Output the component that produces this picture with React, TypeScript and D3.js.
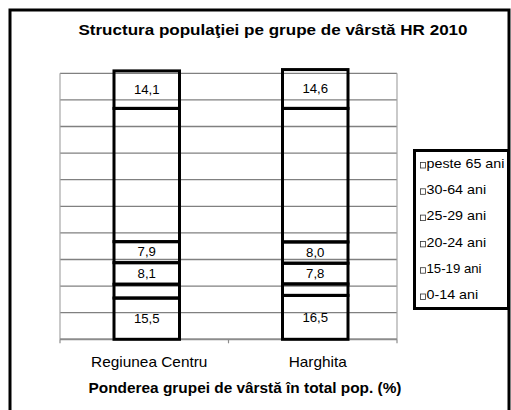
import React from 'react';
import * as d3 from 'd3';

const categories = ['Regiunea Centru', 'Harghita'];
const ageGroups = ['0-14 ani', '15-19 ani', '20-24 ani', '25-29 ani', '30-64 ani', 'peste 65 ani'];
const centruValues = [15.5, 5.2, 8.1, 7.9, 50.1, 14.1];
const harghitaValues = [16.5, 4.3, 7.8, 8.0, 50.2, 14.6];
// these groups carry no visible label in the original
const hiddenLabels = ['15-19 ani', '30-64 ani'];

const W = 511;
const H = 410;
const FONT = '"Liberation Sans", Arial, sans-serif';
const SX = 1.1; // the source picture is slightly stretched sideways

const ro = d3.formatLocale({ decimal: ',', thousands: '.', grouping: [3], currency: ['', ' lei'] });
const fmt = ro.format('.1f');

export default function App() {
  const rows = categories.map((c, i) => {
    const r: any = { cat: c };
    const vals = i === 0 ? centruValues : harghitaValues;
    ageGroups.forEach((g, j) => (r[g] = vals[j]));
    return r;
  });
  const series = d3.stack().keys(ageGroups)(rows);

  const x = d3.scaleBand().domain(categories).range([60, 397]);
  const y = d3.scaleLinear().domain([0, 100]).range([339.3, 73.3]);
  const barW = 65.5;
  const barX = (c: string) => (x(c) as number) + x.bandwidth() / 2 - barW / 2 + 2.5;

  const legendTop = 163;
  const legendStep = 26.3;

  return (
    <svg
      width={W}
      height={H}
      style={{ position: 'absolute', left: 0, top: 0, background: '#fff' }}
      fontFamily={FONT}
    >
      <rect x={0} y={0} width={W} height={H} fill="#fff" />
      {/* outer frame */}
      <rect x={10} y={10} width={499} height={406} fill="none" stroke="#000" strokeWidth={3} />

      <text
        transform={`translate(273,34.5) scale(${SX},1)`}
        textAnchor="middle"
        fontSize={15.5}
        fontWeight="bold"
      >
        Structura populaţiei pe grupe de vârstă HR 2010
      </text>

      {/* gridlines */}
      {y.ticks(10).filter(t => t > 0).map(t => (
        <line key={t} x1={60} x2={397} y1={y(t)} y2={y(t)} stroke="#808080" strokeWidth={1.3} />
      ))}
      <line x1={60} x2={60} y1={y(100)} y2={y(0)} stroke="#a6a6a6" strokeWidth={1.2} />
      <line x1={397} x2={397} y1={y(100)} y2={y(0)} stroke="#a6a6a6" strokeWidth={1.2} />
      <line x1={60} x2={397} y1={y(0)} y2={y(0)} stroke="#8c8c8c" strokeWidth={2} />
      {[60, ...categories.map(c => (x(c) as number) + x.bandwidth())].map((tx, i) => (
        <line key={i} x1={tx} x2={tx} y1={y(0)} y2={y(0) + 4} stroke="#8c8c8c" strokeWidth={1.2} />
      ))}

      {/* stacked segments */}
      {series.map(s => (
        <g key={s.key}>
          {s.map((d: any) => (
            <rect
              key={d.data.cat}
              x={barX(d.data.cat)}
              width={barW}
              y={y(d[1])}
              height={y(d[0]) - y(d[1])}
              fill="none"
              stroke="#000"
              strokeWidth={3}
            />
          ))}
        </g>
      ))}
      {series.filter(s => !hiddenLabels.includes(s.key)).map(s => (
        <g key={s.key + '-lab'}>
          {s.map((d: any) => (
            <text
              key={d.data.cat}
              transform={`translate(${barX(d.data.cat) + barW / 2},${y((d[0] + d[1]) / 2) + 4.3}) scale(${SX},1)`}
              textAnchor="middle"
              fontSize={12}
              fill="#000"
            >
              {fmt(d[1] - d[0])}
            </text>
          ))}
        </g>
      ))}

      {/* category labels */}
      {categories.map(c => (
        <text
          key={c}
          transform={`translate(${(x(c) as number) + x.bandwidth() / 2 + 5},367.3) scale(${SX},1)`}
          textAnchor="middle"
          fontSize={14}
        >
          {c}
        </text>
      ))}

      <text
        transform={`translate(245,393.3) scale(${SX},1)`}
        textAnchor="middle"
        fontSize={14}
        fontWeight="bold"
      >
        Ponderea grupei de vârstă în total pop. (%)
      </text>

      {/* legend */}
      <rect x={414.5} y={150.5} width={94} height={158} fill="#fff" stroke="#000" strokeWidth={3} />
      {ageGroups.slice().reverse().map((g, i) => {
        const ly = legendTop + i * legendStep;
        return (
          <g key={g}>
            <rect x={420.5} y={ly - 0.5} width={5} height={5.5} fill="#fff" stroke="#333" strokeWidth={0.8} />
            <text
              transform={`translate(426.5,${ly + 4.6}) scale(${SX},1)`}
              fontSize={g === '15-19 ani' ? 12 : 13}
            >
              {g}
            </text>
          </g>
        );
      })}
    </svg>
  );
}
